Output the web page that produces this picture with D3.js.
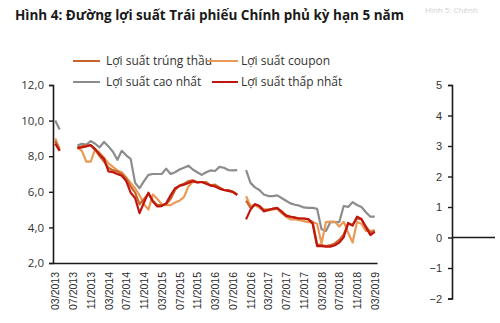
<!DOCTYPE html>
<html>
<head>
<meta charset="utf-8">
<script src="https://cdn.jsdelivr.net/npm/d3@7"></script>
<style>
  html, body { margin: 0; padding: 0; background: #fff; }
  svg { display: block; font-family: "Open Sans", "Noto Sans", sans-serif; }
</style>
</head>
<body>
<svg id="chart" width="500" height="323"></svg>
<script>
// Monthly 5-year government bond yields, 03/2013 – 03/2019 (null = no auction)
const seriesNames = ["Lợi suất trúng thầu", "Lợi suất coupon", "Lợi suất cao nhất", "Lợi suất thấp nhất"];
const seriesColors = ["#c9652c", "#eb9a55", "#8c8c8c", "#c0160f"];

const yieldAuction = [
  8.85, 8.35, null, null, null,
  8.5, 8.55, 8.6, 8.6, 8.35, 8.0, 7.7, 7.35, 7.2, 7.15,
  7.0, 6.75, 6.3, 5.95, 5.3, 5.6, 5.9, 5.5, 5.25, 5.25,
  5.3, 5.6, 6.1, 6.35, 6.45, 6.6, 6.65, 6.55, 6.55, 6.55,
  6.35, 6.4, 6.25, 6.1, 6.1, 6.0, 5.85,
  null,
  5.5, 5.1, 5.3, 5.2, 5.0, 5.0, 5.05, 5.1, 4.85, 4.7,
  4.6, 4.55, 4.5, 4.5, 4.45, 4.3, 3.05, 3.0, 2.95, 3.0,
  3.1, 3.3, 3.6, 4.2, 4.15, 4.5, 4.45, 4.05, 3.7, 3.8
];
const yieldCoupon = [
  9.0, 8.4, null, null, null,
  8.5, 8.3, 7.7, 7.7, 8.4, 8.2, 7.9, 7.6, 7.4, 7.2,
  7.1, 6.8, 6.5, 6.2, 5.8, 5.3, 5.0, 5.85, 5.6, 5.3,
  5.25, 5.25, 5.4, 5.5, 5.7, 6.3, 6.55, 6.55, 6.55, 6.5,
  6.35, 6.35, 6.2, 6.1, 6.05, 6.0, 5.85,
  null,
  5.75, 5.2, 5.25, 5.1, 4.95, 4.95, 5.0, 5.05, 4.8, 4.6,
  4.45, 4.45, 4.4, 4.35, 4.3, 4.3, 4.2, 3.1, 4.3, 4.32,
  4.32, 4.05, 4.32, 3.7, 3.15, 4.3, 4.2, 3.8, 3.8, 3.85
];
const yieldHigh = [
  10.0, 9.5, null, null, null,
  8.6, 8.7, 8.65, 8.85, 8.7, 8.5, 8.8, 8.55, 8.25, 7.8,
  8.3, 8.05, 7.85, 6.5, 6.2, 6.6, 6.95, 7.0, 7.0, 7.0,
  7.3, 7.0, 7.1, 7.25, 7.35, 7.47, 7.25, 7.1, 6.95, 7.1,
  7.2, 7.17, 7.4, 7.35, 7.22, 7.2, 7.22,
  null,
  7.22, 6.5, 6.25, 6.1, 5.85, 5.76, 5.76, 5.8, 5.65, 5.5,
  5.35, 5.27, 5.22, 5.12, 5.1, 5.1, 5.05, 3.9, 3.8, 4.3,
  4.3, 4.3, 5.2, 5.15, 5.42, 5.26, 5.15, 4.85, 4.6, 4.6
];
const yieldLow = [
  8.7, 8.3, null, null, null,
  8.45, 8.5, 8.55, 8.63, 8.4, 8.1, 7.85, 7.15, 7.1, 7.0,
  6.9, 6.6, 5.95, 5.65, 4.8, 5.4, 5.95, 5.45, 5.18, 5.2,
  5.35, 5.8, 6.2, 6.33, 6.4, 6.5, 6.6, 6.52, 6.55, 6.45,
  6.36, 6.3, 6.18, 6.1, 6.05, 6.0, 5.82,
  null,
  4.45, 5.0, 5.3, 5.2, 4.9, 4.98, 5.05, 5.08, 4.9, 4.65,
  4.6, 4.55, 4.5, 4.5, 4.47, 4.2, 2.95, 2.95, 2.92, 2.92,
  3.0, 3.15, 3.45, 4.25, 4.1, 4.6, 4.47, 4.0, 3.57, 3.75
];

const tickLabels = ["03/2013", "07/2013", "11/2013", "03/2014", "07/2014", "11/2014",
  "03/2015", "07/2015", "11/2015", "03/2016", "07/2016", "11/2016", "03/2017",
  "07/2017", "11/2017", "03/2018", "07/2018", "11/2018", "03/2019"];
const leftTicks = [2, 4, 6, 8, 10, 12];
const rightTicks = [-2, -1, 0, 1, 2, 3, 4, 5];

// one category per month
const fmt = d3.timeFormat("%m/%Y");
const months = d3.timeMonth.range(new Date(2013, 2, 1), new Date(2019, 3, 1)).map(fmt);

const svg = d3.select("#chart");

svg.append("text")
  .attr("x", 15).attr("y", 20)
  .attr("font-size", 13.5).attr("font-weight", 700).attr("fill", "#1a1a1a")
  .text("Hình 4: Đường lợi suất Trái phiếu Chính phủ kỳ hạn 5 năm");

svg.append("text")
  .attr("x", 425).attr("y", 13)
  .attr("font-size", 8).attr("fill", "#d0d0d0")
  .text("Hình 5: Chênh");

const x = d3.scalePoint().domain(months).range([53, 377]).padding(0.5);
const y = d3.scaleLinear().domain([2, 12]).range([263, 85]);
const yR = d3.scaleLinear().domain([-2, 5]).range([298.5, 85]);

// left axis
const gL = svg.append("g").attr("transform", "translate(53,0)")
  .call(d3.axisLeft(y).tickValues(leftTicks).tickSize(4).tickPadding(5)
    .tickFormat(d => d3.format(".1f")(d).replace(".", ",")));
gL.select(".domain").attr("stroke", "#1a1a1a").attr("stroke-width", 1.6);
gL.selectAll(".tick line").attr("stroke", "#1a1a1a").attr("stroke-width", 1.4);
gL.selectAll(".tick text").attr("font-size", 11.5).attr("fill", "#333").attr("font-family", "Open Sans");

// bottom axis: labels only
const gB = svg.append("g").attr("transform", "translate(0,263)")
  .call(d3.axisBottom(x).tickValues(tickLabels).tickSize(0).tickSizeOuter(0));
gB.select(".domain").attr("stroke", "#1a1a1a").attr("stroke-width", 1.6);
gB.selectAll(".tick text")
  .attr("font-size", 10.5).attr("fill", "#2a2a2a")
  .attr("transform", "rotate(-90)")
  .attr("text-anchor", "end")
  .attr("x", -9).attr("y", 0).attr("dy", "0.35em");

// series lines
const line = d3.line()
  .defined(d => d.v != null)
  .x(d => x(d.m))
  .y(d => y(d.v));

const drawOrder = [
  { values: yieldHigh, color: seriesColors[2] },
  { values: yieldCoupon, color: seriesColors[1] },
  { values: yieldAuction, color: seriesColors[0] },
  { values: yieldLow, color: seriesColors[3] }
];
drawOrder.forEach(s => {
  svg.append("path")
    .datum(s.values.map((v, i) => ({ m: months[i], v })))
    .attr("fill", "none")
    .attr("stroke", s.color)
    .attr("stroke-width", 2.2)
    .attr("stroke-linejoin", "round")
    .attr("d", line);
});

// right axis with zero line
const gR = svg.append("g").attr("transform", "translate(452,0)")
  .call(d3.axisLeft(yR).tickValues(rightTicks).tickSize(4).tickPadding(6).tickFormat(d3.format("d")));
gR.select(".domain").attr("stroke", "#1a1a1a").attr("stroke-width", 1.6);
gR.selectAll(".tick line").attr("stroke", "#1a1a1a").attr("stroke-width", 1.4);
gR.selectAll(".tick text").attr("font-size", 11).attr("fill", "#333");
svg.append("line")
  .attr("x1", 452).attr("x2", 495)
  .attr("y1", yR(0)).attr("y2", yR(0))
  .attr("stroke", "#1a1a1a").attr("stroke-width", 1.6);

// legend
const legendItems = [
  { name: seriesNames[0], color: seriesColors[0], lx: 73, rx: 100, tx: 106, y: 61 },
  { name: seriesNames[1], color: seriesColors[1], lx: 207, rx: 238, tx: 241, y: 61 },
  { name: seriesNames[2], color: seriesColors[2], lx: 73, rx: 100, tx: 106, y: 82 },
  { name: seriesNames[3], color: seriesColors[3], lx: 212, rx: 238, tx: 241, y: 82 }
];
const lg = svg.append("g");
legendItems.forEach(it => {
  lg.append("line")
    .attr("x1", it.lx).attr("x2", it.rx)
    .attr("y1", it.y).attr("y2", it.y)
    .attr("stroke", it.color).attr("stroke-width", 2);
  lg.append("text")
    .attr("x", it.tx).attr("y", it.y).attr("dy", "0.35em")
    .attr("font-size", 12).attr("fill", "#333")
    .text(it.name);
});
</script>
</body>
</html>
